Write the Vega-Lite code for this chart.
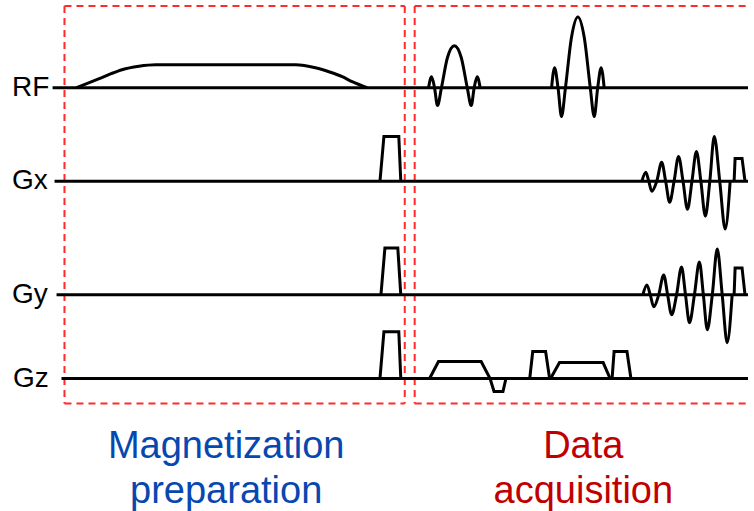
{
  "$schema": "https://vega.github.io/schema/vega-lite/v6.json",
  "width": 754,
  "height": 511,
  "padding": 0,
  "autosize": {"type": "fit", "contains": "padding"},
  "background": "white",
  "config": {"view": {"stroke": null}, "axis": {"disable": true}},
  "datasets": {
    "lines": [
      {"id": "rfb", "s": "lin", "k": 0, "x": 53, "y": 88}, {"id": "rfb", "s": "lin", "k": 1, "x": 754, "y": 88},
      {"id": "gxb", "s": "lin", "k": 0, "x": 55, "y": 182}, {"id": "gxb", "s": "lin", "k": 1, "x": 754, "y": 182},
      {"id": "gyb", "s": "lin", "k": 0, "x": 57, "y": 296}, {"id": "gyb", "s": "lin", "k": 1, "x": 754, "y": 296},
      {"id": "gzb", "s": "lin", "k": 0, "x": 62, "y": 380}, {"id": "gzb", "s": "lin", "k": 1, "x": 754, "y": 380},

      {"id": "gxp", "s": "lin", "k": 0, "x": 383, "y": 182}, {"id": "gxp", "s": "lin", "k": 1, "x": 387, "y": 137}, {"id": "gxp", "s": "lin", "k": 2, "x": 402, "y": 137}, {"id": "gxp", "s": "lin", "k": 3, "x": 404, "y": 182},
      {"id": "gyp", "s": "lin", "k": 0, "x": 384, "y": 296}, {"id": "gyp", "s": "lin", "k": 1, "x": 388, "y": 249}, {"id": "gyp", "s": "lin", "k": 2, "x": 401, "y": 249}, {"id": "gyp", "s": "lin", "k": 3, "x": 404, "y": 296},
      {"id": "gzp", "s": "lin", "k": 0, "x": 383, "y": 380}, {"id": "gzp", "s": "lin", "k": 1, "x": 387, "y": 333}, {"id": "gzp", "s": "lin", "k": 2, "x": 402, "y": 333}, {"id": "gzp", "s": "lin", "k": 3, "x": 404, "y": 380},

      {"id": "gz1", "s": "lin", "k": 0, "x": 433, "y": 380}, {"id": "gz1", "s": "lin", "k": 1, "x": 442, "y": 363}, {"id": "gz1", "s": "lin", "k": 2, "x": 485, "y": 363}, {"id": "gz1", "s": "lin", "k": 3, "x": 494, "y": 380}, {"id": "gz1", "s": "lin", "k": 4, "x": 498, "y": 393}, {"id": "gz1", "s": "lin", "k": 5, "x": 507, "y": 393}, {"id": "gz1", "s": "lin", "k": 6, "x": 510, "y": 380},
      {"id": "gz2", "s": "lin", "k": 0, "x": 534, "y": 380}, {"id": "gz2", "s": "lin", "k": 1, "x": 537, "y": 353}, {"id": "gz2", "s": "lin", "k": 2, "x": 550, "y": 353}, {"id": "gz2", "s": "lin", "k": 3, "x": 554, "y": 380},
      {"id": "gz3", "s": "lin", "k": 0, "x": 555, "y": 380}, {"id": "gz3", "s": "lin", "k": 1, "x": 564, "y": 364}, {"id": "gz3", "s": "lin", "k": 2, "x": 608, "y": 364}, {"id": "gz3", "s": "lin", "k": 3, "x": 615, "y": 380},
      {"id": "gz4", "s": "lin", "k": 0, "x": 617, "y": 380}, {"id": "gz4", "s": "lin", "k": 1, "x": 619, "y": 353}, {"id": "gz4", "s": "lin", "k": 2, "x": 632, "y": 353}, {"id": "gz4", "s": "lin", "k": 3, "x": 636, "y": 380},
      {"id": "gxt", "s": "lin", "k": 0, "x": 740, "y": 182}, {"id": "gxt", "s": "lin", "k": 1, "x": 741, "y": 159}, {"id": "gxt", "s": "lin", "k": 2, "x": 748, "y": 159}, {"id": "gxt", "s": "lin", "k": 3, "x": 751, "y": 182},
      {"id": "gyt", "s": "lin", "k": 0, "x": 740, "y": 296}, {"id": "gyt", "s": "lin", "k": 1, "x": 741, "y": 269}, {"id": "gyt", "s": "lin", "k": 2, "x": 748, "y": 269}, {"id": "gyt", "s": "lin", "k": 3, "x": 751, "y": 296},

      {"id": "rf0", "s": "curve", "k": 0, "x": 77, "y": 88}, {"id": "rf0", "s": "curve", "k": 1, "x": 90, "y": 83}, {"id": "rf0", "s": "curve", "k": 2, "x": 100, "y": 79}, {"id": "rf0", "s": "curve", "k": 3, "x": 112, "y": 74}, {"id": "rf0", "s": "curve", "k": 4, "x": 123, "y": 70}, {"id": "rf0", "s": "curve", "k": 5, "x": 140, "y": 66.5}, {"id": "rf0", "s": "curve", "k": 6, "x": 157, "y": 65}, {"id": "rf0", "s": "curve", "k": 7, "x": 298, "y": 65}, {"id": "rf0", "s": "curve", "k": 8, "x": 318, "y": 68}, {"id": "rf0", "s": "curve", "k": 9, "x": 333, "y": 72.5}, {"id": "rf0", "s": "curve", "k": 10, "x": 345, "y": 77}, {"id": "rf0", "s": "curve", "k": 11, "x": 355, "y": 82}, {"id": "rf0", "s": "curve", "k": 12, "x": 370, "y": 88},

      {"id": "rf1", "s": "curve", "k": 0, "x": 432, "y": 88}, {"id": "rf1", "s": "curve", "k": 1, "x": 435, "y": 77}, {"id": "rf1", "s": "curve", "k": 2, "x": 438, "y": 88}, {"id": "rf1", "s": "curve", "k": 3, "x": 441, "y": 106}, {"id": "rf1", "s": "curve", "k": 4, "x": 445, "y": 88}, {"id": "rf1", "s": "curve", "k": 5, "x": 451, "y": 58}, {"id": "rf1", "s": "curve", "k": 6, "x": 458, "y": 46}, {"id": "rf1", "s": "curve", "k": 7, "x": 465, "y": 58}, {"id": "rf1", "s": "curve", "k": 8, "x": 471, "y": 88}, {"id": "rf1", "s": "curve", "k": 9, "x": 475, "y": 106}, {"id": "rf1", "s": "curve", "k": 10, "x": 478, "y": 88}, {"id": "rf1", "s": "curve", "k": 11, "x": 481, "y": 77}, {"id": "rf1", "s": "curve", "k": 12, "x": 484, "y": 88},

      {"id": "rf2", "s": "curve", "k": 0, "x": 556, "y": 88}, {"id": "rf2", "s": "curve", "k": 1, "x": 559, "y": 68}, {"id": "rf2", "s": "curve", "k": 2, "x": 562.5, "y": 88}, {"id": "rf2", "s": "curve", "k": 3, "x": 566, "y": 117}, {"id": "rf2", "s": "curve", "k": 4, "x": 570, "y": 88}, {"id": "rf2", "s": "curve", "k": 5, "x": 576, "y": 38}, {"id": "rf2", "s": "curve", "k": 6, "x": 582.5, "y": 17}, {"id": "rf2", "s": "curve", "k": 7, "x": 589, "y": 38}, {"id": "rf2", "s": "curve", "k": 8, "x": 595, "y": 88}, {"id": "rf2", "s": "curve", "k": 9, "x": 599, "y": 117}, {"id": "rf2", "s": "curve", "k": 10, "x": 602.5, "y": 88}, {"id": "rf2", "s": "curve", "k": 11, "x": 606, "y": 68}, {"id": "rf2", "s": "curve", "k": 12, "x": 609, "y": 88},

      {"id": "gxw", "s": "curve", "k": 0, "x": 647, "y": 182}, {"id": "gxw", "s": "curve", "k": 1, "x": 651, "y": 173}, {"id": "gxw", "s": "curve", "k": 2, "x": 654, "y": 182}, {"id": "gxw", "s": "curve", "k": 3, "x": 657, "y": 192}, {"id": "gxw", "s": "curve", "k": 4, "x": 662, "y": 182}, {"id": "gxw", "s": "curve", "k": 5, "x": 667, "y": 163}, {"id": "gxw", "s": "curve", "k": 6, "x": 671, "y": 182}, {"id": "gxw", "s": "curve", "k": 7, "x": 675, "y": 203}, {"id": "gxw", "s": "curve", "k": 8, "x": 679.5, "y": 182}, {"id": "gxw", "s": "curve", "k": 9, "x": 684, "y": 157}, {"id": "gxw", "s": "curve", "k": 10, "x": 688.5, "y": 182}, {"id": "gxw", "s": "curve", "k": 11, "x": 693, "y": 210}, {"id": "gxw", "s": "curve", "k": 12, "x": 697.5, "y": 182}, {"id": "gxw", "s": "curve", "k": 13, "x": 702, "y": 152}, {"id": "gxw", "s": "curve", "k": 14, "x": 706.5, "y": 182}, {"id": "gxw", "s": "curve", "k": 15, "x": 711, "y": 217}, {"id": "gxw", "s": "curve", "k": 16, "x": 715.5, "y": 182}, {"id": "gxw", "s": "curve", "k": 17, "x": 720, "y": 137}, {"id": "gxw", "s": "curve", "k": 18, "x": 725.5, "y": 182}, {"id": "gxw", "s": "curve", "k": 19, "x": 731, "y": 230}, {"id": "gxw", "s": "curve", "k": 20, "x": 736, "y": 182},

      {"id": "gyw", "s": "curve", "k": 0, "x": 648, "y": 296}, {"id": "gyw", "s": "curve", "k": 1, "x": 652, "y": 286}, {"id": "gyw", "s": "curve", "k": 2, "x": 655.5, "y": 296}, {"id": "gyw", "s": "curve", "k": 3, "x": 659, "y": 308}, {"id": "gyw", "s": "curve", "k": 4, "x": 664, "y": 296}, {"id": "gyw", "s": "curve", "k": 5, "x": 669, "y": 276}, {"id": "gyw", "s": "curve", "k": 6, "x": 673, "y": 296}, {"id": "gyw", "s": "curve", "k": 7, "x": 677, "y": 316}, {"id": "gyw", "s": "curve", "k": 8, "x": 682, "y": 296}, {"id": "gyw", "s": "curve", "k": 9, "x": 687, "y": 268}, {"id": "gyw", "s": "curve", "k": 10, "x": 691, "y": 296}, {"id": "gyw", "s": "curve", "k": 11, "x": 695, "y": 324}, {"id": "gyw", "s": "curve", "k": 12, "x": 700, "y": 296}, {"id": "gyw", "s": "curve", "k": 13, "x": 705, "y": 263}, {"id": "gyw", "s": "curve", "k": 14, "x": 709, "y": 296}, {"id": "gyw", "s": "curve", "k": 15, "x": 713, "y": 331}, {"id": "gyw", "s": "curve", "k": 16, "x": 718, "y": 296}, {"id": "gyw", "s": "curve", "k": 17, "x": 723, "y": 250}, {"id": "gyw", "s": "curve", "k": 18, "x": 728, "y": 296}, {"id": "gyw", "s": "curve", "k": 19, "x": 733, "y": 344}, {"id": "gyw", "s": "curve", "k": 20, "x": 738, "y": 296}
    ],
    "boxes": [
      {"x": 65, "x2": 408, "y": 6, "y2": 6},
      {"x": 65, "x2": 408, "y": 405, "y2": 405},
      {"x": 65, "x2": 65, "y": 6, "y2": 405},
      {"x": 408, "x2": 408, "y": 6, "y2": 405},
      {"x": 418, "x2": 754, "y": 6, "y2": 6},
      {"x": 418, "x2": 754, "y": 405, "y2": 405},
      {"x": 418, "x2": 418, "y": 6, "y2": 405}
    ],
    "labels": [
      {"t": "RF", "x": 12, "y": 88, "g": "ch"},
      {"t": "Gx", "x": 12, "y": 182, "g": "ch"},
      {"t": "Gy", "x": 12, "y": 296, "g": "ch"},
      {"t": "Gz", "x": 13, "y": 380, "g": "ch"},
      {"t": "Magnetization", "x": 228, "y": 449, "g": "prep"},
      {"t": "preparation", "x": 228, "y": 494, "g": "prep"},
      {"t": "Data", "x": 588, "y": 449, "g": "acq"},
      {"t": "acquisition", "x": 588, "y": 494, "g": "acq"}
    ]
  },
  "layer": [
    {
      "data": {"name": "boxes"},
      "mark": {"type": "rule", "color": "#ff2a2a", "strokeWidth": 2, "strokeDash": [7, 5]},
      "encoding": {
        "x": {"field": "x", "type": "quantitative", "scale": {"domain": [0, 754], "nice": false, "zero": false}, "axis": null},
        "x2": {"field": "x2"},
        "y": {"field": "y", "type": "quantitative", "scale": {"domain": [0, 511], "nice": false, "zero": false, "reverse": true}, "axis": null},
        "y2": {"field": "y2"}
      }
    },
    {
      "data": {"name": "lines"},
      "transform": [{"filter": "datum.s === 'lin'"}],
      "mark": {"type": "line", "color": "black", "strokeWidth": 3, "interpolate": "linear", "strokeJoin": "miter"},
      "encoding": {
        "x": {"field": "x", "type": "quantitative", "scale": {"domain": [0, 754], "nice": false, "zero": false}, "axis": null},
        "y": {"field": "y", "type": "quantitative", "scale": {"domain": [0, 511], "nice": false, "zero": false, "reverse": true}, "axis": null},
        "detail": {"field": "id"},
        "order": {"field": "k"}
      }
    },
    {
      "data": {"name": "lines"},
      "transform": [{"filter": "datum.s === 'curve'"}],
      "mark": {"type": "line", "color": "black", "strokeWidth": 3, "interpolate": "monotone"},
      "encoding": {
        "x": {"field": "x", "type": "quantitative", "scale": {"domain": [0, 754], "nice": false, "zero": false}, "axis": null},
        "y": {"field": "y", "type": "quantitative", "scale": {"domain": [0, 511], "nice": false, "zero": false, "reverse": true}, "axis": null},
        "detail": {"field": "id"},
        "order": {"field": "k"}
      }
    },
    {
      "data": {"name": "labels"},
      "transform": [{"filter": "datum.g === 'ch'"}],
      "mark": {"type": "text", "font": "Liberation Sans", "fontSize": 28, "color": "black", "align": "left", "baseline": "middle"},
      "encoding": {
        "x": {"field": "x", "type": "quantitative", "scale": {"domain": [0, 754], "nice": false, "zero": false}, "axis": null},
        "y": {"field": "y", "type": "quantitative", "scale": {"domain": [0, 511], "nice": false, "zero": false, "reverse": true}, "axis": null},
        "text": {"field": "t"}
      }
    },
    {
      "data": {"name": "labels"},
      "transform": [{"filter": "datum.g === 'prep'"}],
      "mark": {"type": "text", "font": "Liberation Sans", "fontSize": 38, "color": "#0747b0", "align": "center", "baseline": "middle"},
      "encoding": {
        "x": {"field": "x", "type": "quantitative", "scale": {"domain": [0, 754], "nice": false, "zero": false}, "axis": null},
        "y": {"field": "y", "type": "quantitative", "scale": {"domain": [0, 511], "nice": false, "zero": false, "reverse": true}, "axis": null},
        "text": {"field": "t"}
      }
    },
    {
      "data": {"name": "labels"},
      "transform": [{"filter": "datum.g === 'acq'"}],
      "mark": {"type": "text", "font": "Liberation Sans", "fontSize": 38, "color": "#c00000", "align": "center", "baseline": "middle"},
      "encoding": {
        "x": {"field": "x", "type": "quantitative", "scale": {"domain": [0, 754], "nice": false, "zero": false}, "axis": null},
        "y": {"field": "y", "type": "quantitative", "scale": {"domain": [0, 511], "nice": false, "zero": false, "reverse": true}, "axis": null},
        "text": {"field": "t"}
      }
    }
  ]
}
